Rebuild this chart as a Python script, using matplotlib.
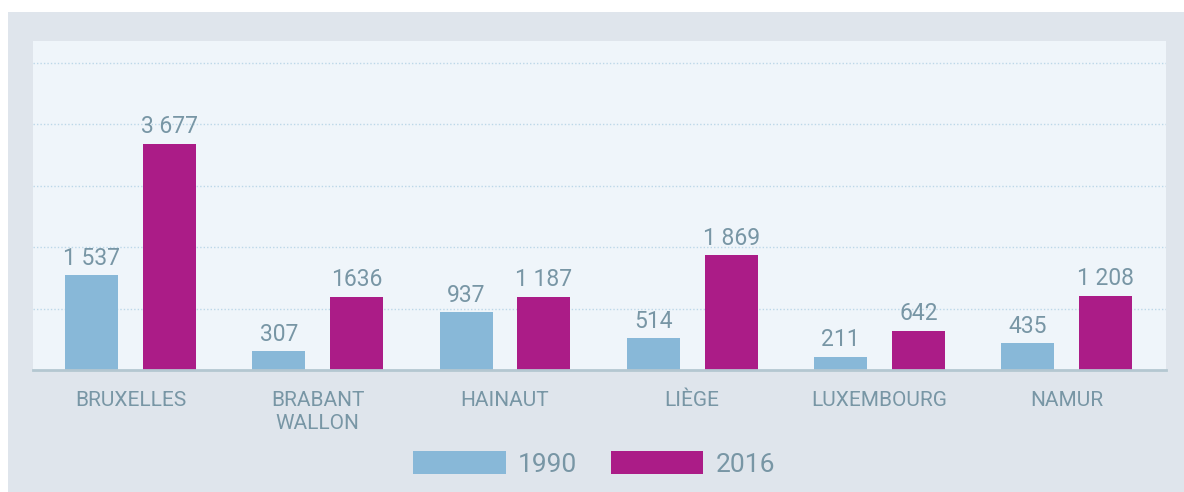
import matplotlib.pyplot as plt
from matplotlib.patches import Rectangle
import numpy as np

categories = ["BRUXELLES", "BRABANT\nWALLON", "HAINAUT", "LIÈGE", "LUXEMBOURG", "NAMUR"]
values_1990 = [1537, 307, 937, 514, 211, 435]
values_2016 = [3677, 1190, 1187, 1869, 642, 1208]
labels_1990 = ["1 537", "307", "937", "514", "211", "435"]
labels_2016 = ["3 677", "1636", "1 187", "1 869", "642", "1 208"]
series_names = ["1990", "2016"]

blue = "#88b8d8"
magenta = "#ab1c87"
text_col = "#7896a5"

plt.rcParams['font.family'] = ['Roboto', 'DejaVu Sans']

fig = plt.figure(figsize=(11.84, 4.92), dpi=100)
fig.patch.set_facecolor("white")
fig.patches.append(Rectangle((8 / 1184, 0), 1, 480 / 492, transform=fig.transFigure,
                             facecolor="#dfe5ec", edgecolor="none", zorder=-10))

ax = fig.add_axes([33 / 1184, (492 - 370) / 492, (1166 - 33) / 1184, (370 - 41) / 492])
ax.set_facecolor("#eff5fa")

x = np.arange(len(categories))
w = 0.283
off = 0.208
b1 = ax.bar(x - off, values_1990, w, color=blue, label=series_names[0], zorder=3)
b2 = ax.bar(x + off, values_2016, w, color=magenta, label=series_names[1], zorder=3)

for bars, labs in ((b1, labels_1990), (b2, labels_2016)):
    for rect, lab in zip(bars, labs):
        ax.annotate(lab, (rect.get_x() + rect.get_width() / 2, rect.get_height()),
                    xytext=(0, 4), textcoords="offset points", ha="center", va="bottom",
                    fontsize=16.5, color=text_col)

ax.set_xlim(-0.521, 5.531)
ax.set_ylim(0, 5350)
ax.set_yticks([1000, 2000, 3000, 4000, 5000])
ax.yaxis.grid(True, linestyle=(0, (1, 1.5)), color="#bcd7e8", linewidth=1, zorder=1)
ax.set_axisbelow(True)
ax.tick_params(axis="y", left=False, labelleft=False)
ax.tick_params(axis="x", length=0, pad=15, labelsize=15, labelcolor=text_col)
ax.set_xticks(x)
ax.set_xticklabels(categories, linespacing=1.3, va="top")

for s in ("top", "left", "right"):
    ax.spines[s].set_visible(False)
ax.spines["bottom"].set_color("#b4c7d1")
ax.spines["bottom"].set_linewidth(2)
ax.spines["bottom"].set_zorder(4)

leg = fig.legend(loc="center", bbox_to_anchor=(594 / 1184, (492 - 464) / 492), ncol=2,
                 frameon=False, fontsize=19, handlelength=3.5, handleheight=0.95,
                 handletextpad=0.45, columnspacing=1.3, borderpad=0)
for t in leg.get_texts():
    t.set_color(text_col)

fig.savefig("out.png", dpi=100)
